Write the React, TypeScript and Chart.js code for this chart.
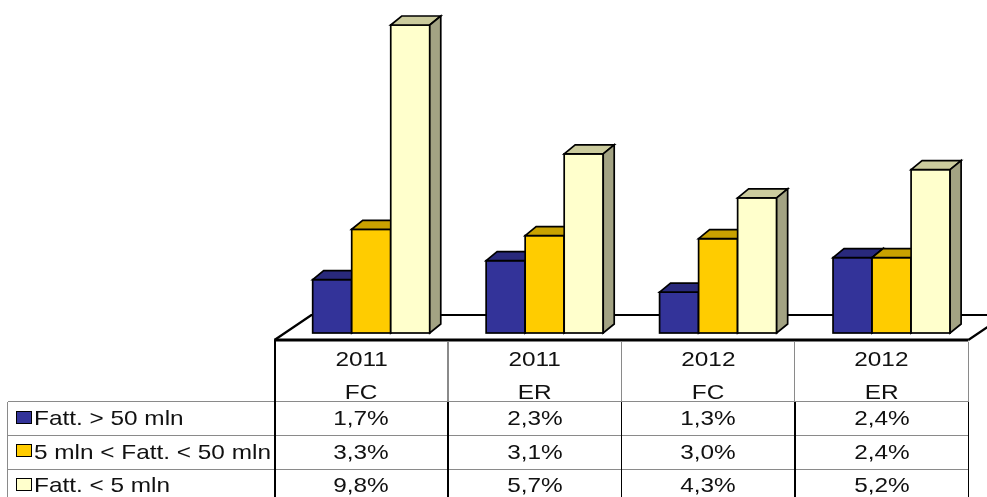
import { useEffect, useRef } from "react";
import { Chart, registerables } from "chart.js";

Chart.register(...registerables);

// ---- data ----
const categories: string[][] = [
  ["2011", "FC"],
  ["2011", "ER"],
  ["2012", "FC"],
  ["2012", "ER"],
];
const seriesNames: string[] = ["Fatt. > 50 mln", "5 mln < Fatt. < 50 mln", "Fatt. < 5 mln"];
const over50: number[] = [1.7, 2.3, 1.3, 2.4];
const between5and50: number[] = [3.3, 3.1, 3.0, 2.4];
const under5: number[] = [9.8, 5.7, 4.3, 5.2];
const yMin = 0;
const yMax = 10;

const seriesData = [over50, between5and50, under5];

// ---- style ----
const W = 987;
const H = 497;
const FRONT = ["#333399", "#FFCC00", "#FFFFCC"];
const TOP = ["#29297c", "#c9a200", "#cbcb9d"];
const SIDE = ["#1f1f5e", "#a08000", "#a3a383"];
const DEPTH_X = 11;
const DEPTH_Y = -9;
const FLOOR_DX = 37;
const FLOOR_DY = -25;
const FLOOR_DROP = 7;
const BAR_SHIFT = 10;
const TABLE_LEFT = 274.5;
const COL_W = 173.45;
const HEADER_TOP = 341.5;
const HEADER_LINE = 33;
const ROW_TOP = 401.7;
const ROW_H = 33.8;
const BAR_BOTTOM = 333;
const LEGEND_LEFT = 7.5;
const TEXT_SX = 1.16;
const FONT_SIZE = 21;
const FONT = "'Liberation Sans', Arial, Helvetica, sans-serif";

const fmt = (v: number) => v.toFixed(1).replace(".", ",") + "%";

const bars3d = {
  id: "bars3d",
  beforeDatasetsDraw(chart: any) {
    const ctx: CanvasRenderingContext2D = chart.ctx;
    const ca = chart.chartArea;
    const y0 = chart.scales.y.getPixelForValue(0);
    const fl = ca.left - BAR_SHIFT;
    const fr = ca.right - BAR_SHIFT;
    const fy = y0 + FLOOR_DROP;
    ctx.save();
    // floor
    ctx.beginPath();
    ctx.moveTo(fl, fy);
    ctx.lineTo(fl + FLOOR_DX, fy + FLOOR_DY);
    ctx.lineTo(fr + FLOOR_DX, fy + FLOOR_DY);
    ctx.lineTo(fr, fy);
    ctx.closePath();
    ctx.fillStyle = "#ffffff";
    ctx.fill();
    ctx.strokeStyle = "#000";
    ctx.lineJoin = "round";
    ctx.lineWidth = 2.2;
    ctx.beginPath();
    ctx.moveTo(fl, fy);
    ctx.lineTo(fl + FLOOR_DX, fy + FLOOR_DY);
    ctx.lineTo(fr + FLOOR_DX, fy + FLOOR_DY);
    ctx.moveTo(fr, fy);
    ctx.lineTo(fr + FLOOR_DX, fy + FLOOR_DY);
    ctx.stroke();
    ctx.lineWidth = 3;
    ctx.beginPath();
    ctx.moveTo(fl, fy);
    ctx.lineTo(fr, fy);
    ctx.stroke();

    // bars
    const n = chart.data.labels.length;
    const dsCount = chart.data.datasets.length;
    ctx.lineWidth = 1.7;
    ctx.lineJoin = "miter";
    for (let j = 0; j < n; j++) {
      for (let i = 0; i < dsCount; i++) {
        const meta = chart.getDatasetMeta(i);
        const el = meta.data[j];
        if (!el) continue;
        const p = el.getProps(["x", "y", "base", "width"], true);
        const L = p.x - p.width / 2;
        const R = p.x + p.width / 2;
        const T = Math.min(p.y, p.base);
        const B = Math.max(p.y, p.base);
        // front
        ctx.fillStyle = chart.data.datasets[i].backgroundColor;
        ctx.fillRect(L, T, R - L, B - T);
        ctx.strokeStyle = "#000";
        ctx.strokeRect(L, T, R - L, B - T);
        // top
        ctx.beginPath();
        ctx.moveTo(L, T);
        ctx.lineTo(L + DEPTH_X, T + DEPTH_Y);
        ctx.lineTo(R + DEPTH_X, T + DEPTH_Y);
        ctx.lineTo(R, T);
        ctx.closePath();
        ctx.fillStyle = TOP[i];
        ctx.fill();
        ctx.stroke();
        // side
        ctx.beginPath();
        ctx.moveTo(R, T);
        ctx.lineTo(R + DEPTH_X, T + DEPTH_Y);
        ctx.lineTo(R + DEPTH_X, B + DEPTH_Y);
        ctx.lineTo(R, B);
        ctx.closePath();
        ctx.fillStyle = SIDE[i];
        ctx.fill();
        ctx.stroke();
      }
    }
    ctx.restore();
    return false;
  },
};

function T({ s, origin }: { s: string; origin: string }) {
  return (
    <span
      style={{
        display: "inline-block",
        transform: `scaleX(${TEXT_SX})`,
        transformOrigin: origin,
        whiteSpace: "nowrap",
      }}
    >
      {s}
    </span>
  );
}

export default function App() {
  const ref = useRef<HTMLCanvasElement | null>(null);

  useEffect(() => {
    if (!ref.current) return;
    const chartLeft = TABLE_LEFT + BAR_SHIFT;
    const chartRight = TABLE_LEFT + COL_W * categories.length + BAR_SHIFT;
    const pxPerUnit = 314.3 / (yMax - yMin);
    const top = BAR_BOTTOM - pxPerUnit * (yMax - yMin);
    const chart = new Chart(ref.current, {
      type: "bar",
      data: {
        labels: categories,
        datasets: seriesNames.map((name, i) => ({
          label: name,
          data: seriesData[i],
          backgroundColor: FRONT[i],
          borderColor: "#000",
          borderWidth: 1.6,
          categoryPercentage: 0.675,
          barPercentage: 1,
        })),
      },
      options: {
        animation: false,
        responsive: false,
        events: [],
        layout: {
          padding: {
            left: chartLeft,
            right: W - chartRight,
            top: top,
            bottom: H - BAR_BOTTOM,
          },
        },
        plugins: {
          legend: { display: false },
          tooltip: { enabled: false },
        },
        scales: {
          x: { display: false },
          y: { display: false, min: yMin, max: yMax },
        },
      },
      plugins: [bars3d],
    } as any);
    return () => chart.destroy();
  }, []);

  const nCols = categories.length;
  const tableRight = TABLE_LEFT + COL_W * nCols;
  const lines: JSX.Element[] = [];
  for (let r = 0; r < seriesNames.length; r++) {
    lines.push(
      <div
        key={"h" + r}
        style={{
          position: "absolute",
          left: LEGEND_LEFT,
          top: ROW_TOP + r * ROW_H - 0.5,
          width: tableRight - LEGEND_LEFT,
          height: 1.2,
          background: "#8a8a8a",
        }}
      />
    );
  }
  lines.push(
    <div
      key="ll"
      style={{
        position: "absolute",
        left: LEGEND_LEFT - 0.5,
        top: ROW_TOP,
        width: 1.2,
        height: H - ROW_TOP,
        background: "#8a8a8a",
      }}
    />
  );
  lines.push(
    <div
      key="tl"
      style={{
        position: "absolute",
        left: TABLE_LEFT - 1,
        top: 340,
        width: 2,
        height: H - 340,
        background: "#000",
      }}
    />
  );
  for (let c = 1; c <= nCols; c++) {
    const x = TABLE_LEFT + c * COL_W;
    lines.push(
      <div
        key={"vh" + c}
        style={{
          position: "absolute",
          left: x - 0.6,
          top: 342,
          width: 1.2,
          height: ROW_TOP - 342,
          background: "#8a8a8a",
        }}
      />
    );
    lines.push(
      <div
        key={"vb" + c}
        style={{
          position: "absolute",
          left: x - 0.8,
          top: ROW_TOP,
          width: 1.6,
          height: H - ROW_TOP,
          background: "#000",
        }}
      />
    );
  }

  return (
    <div
      style={{
        position: "fixed",
        left: 0,
        top: 0,
        width: W,
        height: H,
        background: "#fff",
        overflow: "hidden",
        fontFamily: FONT,
        fontSize: FONT_SIZE,
        color: "#111",
      }}
    >
      <canvas
        ref={ref}
        width={W}
        height={H}
        style={{ position: "absolute", left: 0, top: 0, width: W, height: H }}
      />
      {lines}
      {categories.map((cat, c) => (
        <div key={"cat" + c}>
          {cat.map((line, k) => (
            <div
              key={k}
              style={{
                position: "absolute",
                left: TABLE_LEFT + c * COL_W,
                top: HEADER_TOP + k * HEADER_LINE,
                width: COL_W,
                height: HEADER_LINE,
                lineHeight: HEADER_LINE + "px",
                textAlign: "center",
              }}
            >
              <T s={line} origin="center" />
            </div>
          ))}
        </div>
      ))}
      {seriesNames.map((name, r) => (
        <div key={"row" + r}>
          <div
            style={{
              position: "absolute",
              left: 15.5,
              top: ROW_TOP + r * ROW_H + ROW_H / 2 - 8,
              width: 16,
              height: 13,
              boxSizing: "border-box",
              border: "1.7px solid #000",
              background: FRONT[r],
            }}
          />
          <div
            style={{
              position: "absolute",
              left: 34,
              top: ROW_TOP + r * ROW_H - 1,
              height: ROW_H,
              lineHeight: ROW_H + "px",
              whiteSpace: "nowrap",
            }}
          >
            <T s={name} origin="left" />
          </div>
          {seriesData[r].map((v, c) => (
            <div
              key={c}
              style={{
                position: "absolute",
                left: TABLE_LEFT + c * COL_W,
                top: ROW_TOP + r * ROW_H - 1,
                width: COL_W,
                height: ROW_H,
                lineHeight: ROW_H + "px",
                textAlign: "center",
              }}
            >
              <T s={fmt(v)} origin="center" />
            </div>
          ))}
        </div>
      ))}
    </div>
  );
}
